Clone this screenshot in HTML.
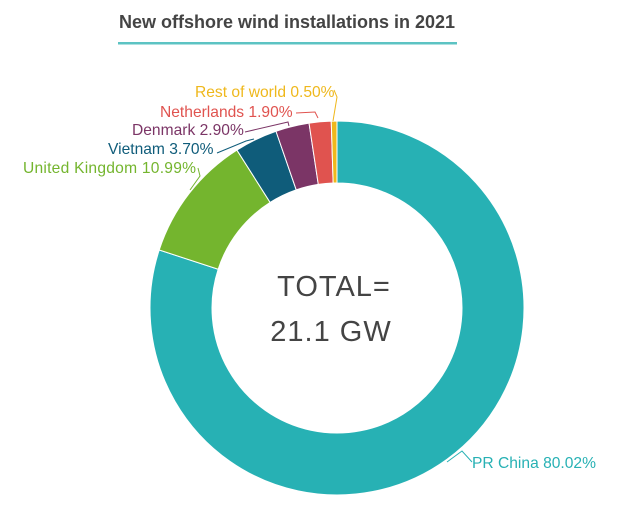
<!DOCTYPE html>
<html><head><meta charset="utf-8"><style>
html,body{margin:0;padding:0;background:#fff;width:638px;height:528px;overflow:hidden}
svg{display:block}
text{font-family:"Liberation Sans",sans-serif}
</style></head><body>
<svg id="s" width="638" height="528" viewBox="0 0 638 528">
<text x="287" y="28" text-anchor="middle" font-size="18" font-weight="bold" fill="#444">New offshore wind installations in 2021</text>
<rect x="118" y="42" width="339" height="2.5" fill="#5cc3c3"/>
<g id="arcs"></g>
<g fill="none" stroke-width="1">
<polyline points="334,90 337,97 333,121" stroke="#efb81c"/>
<polyline points="296,113 315,112 318,118" stroke="#e0534f"/>
<polyline points="245,132 288,122 289,126" stroke="#7b3566"/>
<polyline points="217,153 246,141 254,139" stroke="#0f5c7a"/>
<polyline points="198,168 200,176 190,190" stroke="#74b52e"/>
<polyline points="447,462 462,451 472,462" stroke="#27b1b4"/>
</g>
<g font-size="15.6">
<text x="195" y="97" fill="#efb81c">Rest of world 0.50%</text>
<text x="160" y="117" fill="#e0534f">Netherlands 1.90%</text>
<text x="132" y="135" fill="#7b3566">Denmark 2.90%</text>
<text x="108" y="154" fill="#0f5c7a">Vietnam 3.70%</text>
<text x="23" y="173" fill="#74b52e" textLength="173">United Kingdom 10.99%</text>
<text x="472" y="468" fill="#27b1b4">PR China 80.02%</text>
</g>
<text x="334" y="296" text-anchor="middle" font-size="29" fill="#444" letter-spacing="1">TOTAL=</text>
<text x="331" y="341" text-anchor="middle" font-size="29" fill="#444" letter-spacing="1">21.1 GW</text>
</svg>
<script>
var cx=337,cy=308,R=187,r=125;
var d=[[80.02,"#27b1b4"],[10.99,"#74b52e"],[3.70,"#0f5c7a"],[2.90,"#7b3566"],[1.90,"#e0534f"],[0.49,"#efb81c"]];
var tot=0;d.forEach(function(x){tot+=x[0]});
var a=0,g=document.getElementById("arcs"),h="";
function p(rad,ang){return [cx+rad*Math.sin(ang),cy-rad*Math.cos(ang)]}
d.forEach(function(x){
 var a0=a/tot*2*Math.PI;a+=x[0];var a1=a/tot*2*Math.PI;
 var L=(a1-a0)>Math.PI?1:0;
 var o0=p(R,a0),o1=p(R,a1),i1=p(r,a1),i0=p(r,a0);
 h+='<path d="M'+o0+' A'+R+','+R+' 0 '+L+' 1 '+o1+' L'+i1+' A'+r+','+r+' 0 '+L+' 0 '+i0+' Z" fill="'+x[1]+'" stroke="#fff" stroke-width="1"/>';
});
g.innerHTML=h;
</script>
</body></html>
